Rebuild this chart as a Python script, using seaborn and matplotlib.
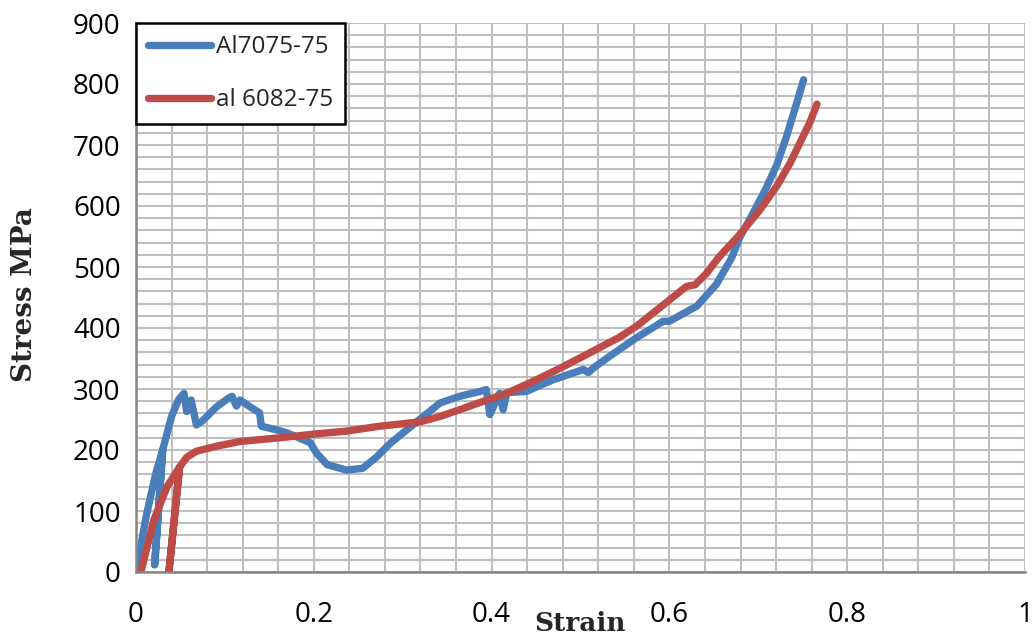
import numpy as np
import pandas as pd
import matplotlib
matplotlib.use("Agg")
import matplotlib.pyplot as plt
from matplotlib.ticker import MultipleLocator, FuncFormatter
import seaborn as sns

# ---- data ----
series_names = ["Al7075-75", "al 6082-75"]

strain_al7075 = [0.000, 0.012, 0.022, 0.030, 0.021, 0.030, 0.040, 0.048, 0.054, 0.057,
                 0.062, 0.068, 0.075, 0.090, 0.104, 0.108, 0.113, 0.117, 0.128, 0.139,
                 0.141, 0.158, 0.170, 0.196, 0.203, 0.215, 0.237, 0.255, 0.271, 0.286,
                 0.319, 0.342, 0.364, 0.387, 0.394, 0.398, 0.409, 0.413, 0.417, 0.439,
                 0.469, 0.503, 0.509, 0.515, 0.533, 0.563, 0.593, 0.600, 0.631, 0.653,
                 0.670, 0.679, 0.694, 0.709, 0.721, 0.732, 0.743, 0.751]
stress_al7075 = [0, 95, 160, 200, 12, 200, 255, 283, 293, 263,
                 282, 241, 248, 270, 285, 288, 272, 282, 271, 261,
                 239, 233, 228, 212, 195, 176, 167, 170, 189, 211,
                 250, 277, 288, 296, 299, 258, 293, 266, 294, 296,
                 315, 332, 327, 335, 354, 384, 411, 411, 436, 472,
                 515, 548, 588, 630, 668, 715, 768, 807]

strain_al6082 = [0.000, 0.006, 0.020, 0.035, 0.049, 0.037, 0.049, 0.057, 0.068, 0.090,
                 0.117, 0.162, 0.200, 0.237, 0.274, 0.319, 0.342, 0.364, 0.387, 0.417,
                 0.443, 0.477, 0.514, 0.544, 0.563, 0.589, 0.619, 0.629, 0.642, 0.655,
                 0.679, 0.702, 0.721, 0.736, 0.747, 0.758, 0.766]
stress_al6082 = [0, 3, 85, 140, 172, 0, 172, 188, 198, 206,
                 214, 220, 226, 231, 239, 246, 255, 266, 278, 293,
                 310, 334, 362, 385, 403, 433, 468, 471, 490, 515,
                 553, 594, 633, 671, 704, 737, 767]

x_ticks = [0, 0.2, 0.4, 0.6, 0.8, 1]
y_ticks = [0, 100, 200, 300, 400, 500, 600, 700, 800, 900]

colors = ["#4A7EBB", "#BE4B48"]

df = pd.concat([
    pd.DataFrame({"strain": strain_al7075, "stress": stress_al7075, "series": series_names[0]}),
    pd.DataFrame({"strain": strain_al6082, "stress": stress_al6082, "series": series_names[1]}),
], ignore_index=True)

sns.set_style("white")
plt.rcParams['font.family'] = ['Open Sans', 'DejaVu Sans']

fig = plt.figure(figsize=(10.32, 6.36), dpi=100)
ax = fig.add_axes([136 / 1032, 1 - 572 / 636, 889 / 1032, 549 / 636])

LW = 5.3
sns.lineplot(data=df, x="strain", y="stress", hue="series", hue_order=series_names,
             palette=colors, sort=False, estimator=None, linewidth=LW, ax=ax)
for ln in ax.lines:
    ln.set_solid_capstyle("round")
    ln.set_solid_joinstyle("round")

ax.set_xlim(0, 1)
ax.set_ylim(0, 900)
ax.set_xticks(x_ticks)
ax.set_yticks(y_ticks)
ax.xaxis.set_minor_locator(MultipleLocator(0.04))
ax.yaxis.set_minor_locator(MultipleLocator(20))
ax.xaxis.set_major_formatter(FuncFormatter(lambda v, p: f"{v:g}"))
ax.grid(which="both", color="#bfbfbf", linewidth=1.5)
ax.set_axisbelow(True)

gray = "#868686"
ax.tick_params(which="minor", length=0)
ax.tick_params(axis="x", which="major", length=7, width=1.5, color=gray,
               labelsize=20, pad=14, labelcolor="black")
ax.tick_params(axis="y", which="major", length=7, width=1.5, color=gray,
               labelsize=20, pad=4, labelcolor="black")
for s in ["top", "right"]:
    ax.spines[s].set_visible(False)
for s in ["left", "bottom"]:
    ax.spines[s].set_color(gray)
    ax.spines[s].set_linewidth(1.8)

ax.set_xlabel("Strain", fontfamily="DejaVu Serif", fontweight="bold", fontsize=19)
ax.xaxis.set_label_coords(0.5, -0.093)
ax.xaxis.label.set_va("center")
ax.set_ylabel("Stress MPa", fontfamily="DejaVu Serif", fontweight="bold", fontsize=20)
ax.yaxis.set_label_coords(-0.125, 0.505)
ax.yaxis.label.set_va("center")

handles, labels = ax.get_legend_handles_labels()
leg = ax.legend(handles, labels, loc="upper left", bbox_to_anchor=(0, 1),
                borderaxespad=0, frameon=True, fancybox=False, edgecolor="black",
                framealpha=1, fontsize=17.5, handlelength=2.6, handletextpad=0.2,
                labelspacing=1.2, borderpad=0.5)
leg.get_frame().set_linewidth(1.8)
for ln in leg.get_lines():
    ln.set_linewidth(LW)
    ln.set_solid_capstyle("round")

fig.savefig("out.png", dpi=100)
